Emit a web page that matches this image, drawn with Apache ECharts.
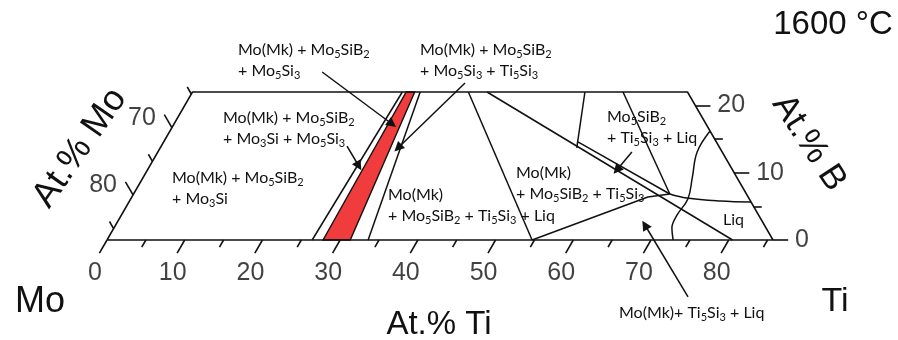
<!DOCTYPE html>
<html>
<head>
<meta charset="utf-8">
<script src="https://cdn.jsdelivr.net/npm/echarts@6/dist/echarts.min.js"></script>
<style>
  html, body { margin: 0; padding: 0; background: #fff; }
  #chart { width: 898px; height: 340px; }
</style>
</head>
<body>
<div id="chart"></div>
<script>
// Isothermal section, compositions written as [at.% Ti, at.% B]
const TI_MAX = 85.7;   // Ti + B along the right edge
const B_MAX = 22;      // top edge
const MO_SUM = 86.7;   // Mo + B along the left (Ti = 0) edge

// axis ticks and labels
const tiTicks = [0, 5, 10, 15, 20, 25, 30, 35, 40, 45, 50, 55, 60, 65, 70, 75, 80, 85];
const tiLabels = [0, 10, 20, 30, 40, 50, 60, 70, 80];
const bTicks = [0, 5, 10, 15, 20];
const bLabels = [0, 10, 20];
const moTicks = [65, 70, 75, 80, 85];
const moLabels = [70, 80];

// phase field boundaries
const redField = [[27.8, 0], [31.3, 0], [28.6, 22], [27.5, 22]];
const lineA = [[26.4, 0], [27.0, 22]];
const lineB = [[33.6, 0], [29.3, 22]];
const lineC = [[35.5, 22], [54.7, 0]];
const lineD = [[54.7, 0], [66.4, 6.4], [69.0, 6.84]];
const lineE = [[37.9, 22], [80.5, 0]];
const lineF = [[50.5, 22], [53.6, 13.7]];
const lineG = [[53.3, 14.6], [69.0, 6.84]];
const lineI = [[55.4, 22], [69.0, 6.84]];
const lineH = [[69.0, 6.84], [71.5, 6.24], [76.0, 5.8], [80.05, 5.65]];
const liquidus = [[69.5, 16.2], [69.4, 13.08], [70.7, 9.22], [71.7, 6.09], [71.5, 3.72], [71.8, 1.78], [72.85, 0]];

// arrows: [from, to]
const arrows = [
  [[15.2, 24.97], [28.06, 17.24]],
  [[34.4, 23.34], [30.6, 13.68]],
  [[23.9, 13.97], [26.9, 11.0]],
  [[61.0, 13.08], [60.4, 10.4]],
  [[79.0, -8.47], [68.1, 2.23]]
];

// composition -> cartesian (60 degree triangle, x and y in the same units)
const xy = p => [p[0] + p[1] / 2, p[1]];

const MAJOR = 1.95, MINOR = 1.05;
const tickSegs = [];
tiTicks.forEach(t => {
  const L = t % 10 === 0 ? MAJOR : MINOR;
  tickSegs.push({ coords: [xy([t, 0]), xy([t, -L])] });
});
bTicks.forEach(b => {
  const L = b % 10 === 0 ? MAJOR : MINOR;
  tickSegs.push({ coords: [xy([TI_MAX - b, b]), xy([TI_MAX - b + L, b])] });
});
moTicks.forEach(m => {
  const b = MO_SUM - m;
  const L = m % 10 === 0 ? MAJOR : MINOR;
  tickSegs.push({ coords: [xy([0, b]), xy([-L, b + L])] });
});

const frame = [[0, 0], [TI_MAX, 0], [TI_MAX - B_MAX, B_MAX], [0, B_MAX], [0, 0]];
const straight = [frame, lineA, lineB, lineC, lineD, lineE, lineF, lineG, lineI];

const INK = '#111';
const lineSeries = (pts, smooth) => ({
  type: 'line', data: pts.map(xy), showSymbol: false, smooth: smooth || false,
  clip: false, silent: true, animation: false,
  lineStyle: { color: INK, width: 1.5, opacity: 1 }
});

const sub = s => s.replace(/([A-Za-z)])(\d)/g, '$1{s|$2}');
const noteFont = 'Lato, "Open Sans", sans-serif';
const note = (text, x, y) => ({
  type: 'text', x: x, y: y, silent: true,
  style: {
    text: sub(text), fill: INK, font: '16px ' + noteFont, lineHeight: 21,
    align: 'left', verticalAlign: 'top',
    rich: { s: { fontSize: 11, fontFamily: noteFont, lineHeight: 12, verticalAlign: 'bottom', fill: INK } }
  }
});
const big = (text, x, y, size, rot) => ({
  type: 'text', x: x, y: y, rotation: (rot || 0) * Math.PI / 180, silent: true,
  style: { text: text, fill: INK, font: size + 'px "Liberation Sans", Arial, sans-serif', align: 'center', verticalAlign: 'middle' }
});

const tickLabel = (data, fmt, offset, align) => ({
  type: 'scatter', data: data, symbolSize: 0, silent: true, clip: false, animation: false,
  label: {
    show: true, position: 'inside', offset: offset, align: align || 'center', verticalAlign: 'middle',
    formatter: fmt, color: INK, fontSize: 25, fontFamily: '"Liberation Sans", Arial, sans-serif'
  }
});

const chart = echarts.init(document.getElementById('chart'), null, { renderer: 'canvas' });
chart.setOption({
  animation: false,
  backgroundColor: '#fff',
  grid: { left: 107, top: 92, width: 666, height: 148 },
  xAxis: { type: 'value', min: 0, max: TI_MAX, show: false },
  yAxis: { type: 'value', min: 0, max: B_MAX, show: false },
  series: [
    {
      type: 'custom', coordinateSystem: 'cartesian2d', silent: true, clip: false,
      data: [[0, 0]],
      renderItem: (params, api) => ({
        type: 'polygon',
        shape: { points: redField.map(p => api.coord(xy(p))) },
        style: { fill: '#f03c3c', stroke: INK, lineWidth: 1.4 }
      })
    },
    ...straight.map(p => lineSeries(p)),
    lineSeries(lineH, 0.4),
    lineSeries(liquidus, 0.4),
    {
      type: 'lines', coordinateSystem: 'cartesian2d', polyline: false, silent: true, clip: false,
      data: tickSegs, lineStyle: { color: INK, width: 1.6, opacity: 1 }, symbol: 'none'
    },
    {
      type: 'lines', coordinateSystem: 'cartesian2d', polyline: false, silent: true, clip: false,
      data: arrows.map(a => ({ coords: [xy(a[0]), xy(a[1])] })),
      lineStyle: { color: INK, width: 1.5, opacity: 1 },
      symbol: ['none', 'triangle'], symbolSize: [7, 10],
      itemStyle: { color: INK, opacity: 1 }
    },
    tickLabel(tiLabels.map(v => xy([v, 0])), p => tiLabels[p.dataIndex], [-12, 33]),
    tickLabel(bLabels.map(b => xy([TI_MAX - b, b])), p => bLabels[p.dataIndex], [22, 0], 'left'),
    tickLabel(moLabels.map(m => xy([0, MO_SUM - m])), p => moLabels[p.dataIndex], [-30, -10])
  ],
  graphic: [
    note('Mo(Mk) + Mo5SiB2\n+ Mo5Si3', 238, 39),
    note('Mo(Mk) + Mo5SiB2\n+ Mo5Si3 + Ti5Si3', 420, 39),
    note('Mo(Mk) + Mo5SiB2\n+ Mo3Si + Mo5Si3', 223, 107),
    note('Mo(Mk) + Mo5SiB2\n+ Mo3Si', 172, 167),
    note('Mo(Mk)\n+ Mo5SiB2 + Ti5Si3 + Liq', 388, 184),
    note('Mo(Mk)\n+ Mo5SiB2 + Ti5Si3', 516, 162),
    note('Mo5SiB2\n+ Ti5Si3 + Liq', 607, 106),
    note('Liq', 723, 209),
    note('Mo(Mk)+ Ti5Si3 + Liq', 619, 302),
    big('1600 °C', 833, 25, 33),
    big('At.% Mo', 80, 148, 36, 55),
    big('At.% B', 809, 143, 35, -57),
    big('Mo', 40, 302, 36),
    big('Ti', 835, 302, 34),
    big('At.% Ti', 439, 325, 33)
  ]
});
</script>
</body>
</html>
